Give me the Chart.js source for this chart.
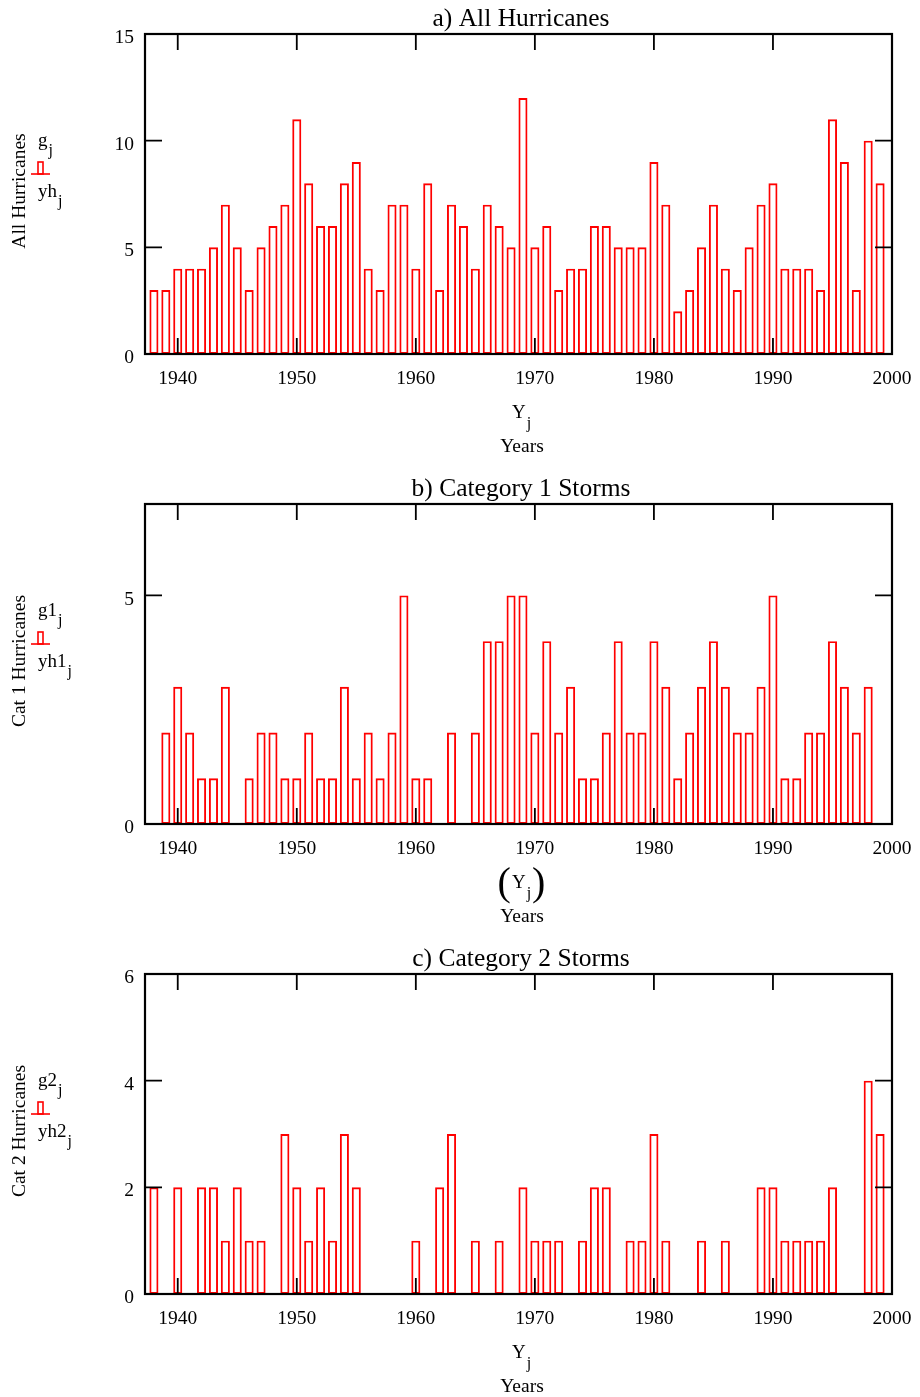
<!DOCTYPE html>
<html>
<head>
<meta charset="utf-8">
<script src="https://cdn.jsdelivr.net/npm/chart.js@4.4.0/dist/chart.umd.min.js"></script>
<style>
body { margin: 0; background: #fff; }
canvas { display: block; }
</style>
</head>
<body>
<canvas id="Grafico1" width="920" height="470"></canvas>
<canvas id="Grafico2" width="920" height="470"></canvas>
<canvas id="Grafico3" width="920" height="457"></canvas>
<script>
// Dados //
var anos = [1938, 1939, 1940, 1941, 1942, 1943, 1944, 1945, 1946, 1947,
    1948, 1949, 1950, 1951, 1952, 1953, 1954, 1955, 1956, 1957,
    1958, 1959, 1960, 1961, 1962, 1963, 1964, 1965, 1966, 1967,
    1968, 1969, 1970, 1971, 1972, 1973, 1974, 1975, 1976, 1977,
    1978, 1979, 1980, 1981, 1982, 1983, 1984, 1985, 1986, 1987,
    1988, 1989, 1990, 1991, 1992, 1993, 1994, 1995, 1996, 1997,
    1998, 1999];
var todos = [3, 3, 4, 4, 4, 5, 7, 5, 3, 5,
    6, 7, 11, 8, 6, 6, 8, 9, 4, 3,
    7, 7, 4, 8, 3, 7, 6, 4, 7, 6,
    5, 12, 5, 6, 3, 4, 4, 6, 6, 5,
    5, 5, 9, 7, 2, 3, 5, 7, 4, 3,
    5, 7, 8, 4, 4, 4, 3, 11, 9, 3,
    10, 8];
var cat1 = [0, 2, 3, 2, 1, 1, 3, 0, 1, 2,
    2, 1, 1, 2, 1, 1, 3, 1, 2, 1,
    2, 5, 1, 1, 0, 2, 0, 2, 4, 4,
    5, 5, 2, 4, 2, 3, 1, 1, 2, 4,
    2, 2, 4, 3, 1, 2, 3, 4, 3, 2,
    2, 3, 5, 1, 1, 2, 2, 4, 3, 2,
    3, 0];
var cat2 = [2, 0, 2, 0, 2, 2, 1, 2, 1, 1,
    0, 3, 2, 1, 2, 1, 3, 2, 0, 0,
    0, 0, 1, 0, 2, 3, 0, 1, 0, 1,
    0, 2, 1, 1, 1, 0, 1, 2, 2, 0,
    1, 1, 3, 1, 0, 0, 1, 0, 1, 0,
    0, 2, 2, 1, 1, 1, 1, 2, 0, 0,
    4, 3];
var ticksX = [1940, 1950, 1960, 1970, 1980, 1990, 2000];
var ticksA = [0, 5, 10, 15];
var ticksB = [0, 5];
var ticksC = [0, 2, 4, 6];
// ------------------------------ //

var fonte = 'Liberation Serif, Times New Roman, serif';

// texto com indice (subscrito) //
function escreveSub(ctx, base, sub, x, y, dy, centro) {
    ctx.font = '19px ' + fonte;
    var w1 = ctx.measureText(base).width;
    ctx.font = '16px ' + fonte;
    var w2 = ctx.measureText(sub).width;
    if (centro) x = x - (w1 + w2) / 2;
    ctx.textAlign = 'left';
    ctx.textBaseline = 'alphabetic';
    ctx.font = '19px ' + fonte;
    ctx.fillText(base, x, y);
    ctx.font = '16px ' + fonte;
    ctx.fillText(sub, x + w1 + 1, y + dy);
    return { x: x, w: w1 + w2 };
}

// plugin para moldura, marcas e textos //
var extras = {
    id: 'extras',
    afterDatasetsDraw: function (chart) {
        var ctx = chart.ctx, a = chart.chartArea;
        var sx = chart.scales.x, sy = chart.scales.y;
        var o = chart.options.plugins.extras;
        ctx.save();
        ctx.fillStyle = '#000';
        ctx.strokeStyle = '#000';
        // marcas para dentro
        ctx.lineWidth = 1.8;
        ctx.beginPath();
        sx.ticks.forEach(function (t) {
            var p = sx.getPixelForValue(t.value);
            ctx.moveTo(p, a.bottom); ctx.lineTo(p, a.bottom - 16);
            ctx.moveTo(p, a.top); ctx.lineTo(p, a.top + 16);
        });
        sy.ticks.forEach(function (t) {
            var p = sy.getPixelForValue(t.value);
            ctx.moveTo(a.left, p); ctx.lineTo(a.left + 17, p);
            ctx.moveTo(a.right, p); ctx.lineTo(a.right - 17, p);
        });
        ctx.stroke();
        // moldura
        ctx.lineWidth = 2.2;
        ctx.strokeRect(a.left, a.top, a.right - a.left, a.bottom - a.top);

        // titulo
        ctx.font = '25.5px ' + fonte;
        ctx.textAlign = 'center';
        ctx.textBaseline = 'alphabetic';
        ctx.fillText(o.titulo, 521, 26);

        // rotulo do eixo y
        ctx.save();
        ctx.translate(20, 191);
        ctx.rotate(-Math.PI / 2);
        ctx.font = '19.5px ' + fonte;
        ctx.textAlign = 'center';
        ctx.textBaseline = 'middle';
        ctx.fillText(o.rotuloY, 0, 0);
        ctx.restore();

        // legenda
        escreveSub(ctx, o.leg1, 'j', 38, 146, 9, false);
        escreveSub(ctx, o.leg2, 'j', 38, 197, 9, false);
        ctx.strokeStyle = '#ff0000';
        ctx.lineWidth = 1.6;
        ctx.strokeRect(38, 162, 5, 12);
        ctx.beginPath();
        ctx.moveTo(31, 174); ctx.lineTo(50, 174);
        ctx.stroke();

        // rotulo do eixo x
        ctx.fillStyle = '#000';
        var r = escreveSub(ctx, 'Y', 'j', 521, 418, 10, true);
        if (o.parenteses) {
            ctx.font = '40px ' + fonte;
            ctx.textBaseline = 'middle';
            ctx.textAlign = 'right';
            ctx.fillText('(', r.x - 1, 414);
            ctx.textAlign = 'left';
            ctx.fillText(')', r.x + r.w + 2, 414);
        }
        ctx.font = '19.5px ' + fonte;
        ctx.textAlign = 'center';
        ctx.textBaseline = 'alphabetic';
        ctx.fillText('Years', 522, 452);
        ctx.restore();
    }
};
// ------------------------------ //

function criaGrafico(id, valores, maximo, ticksY, opcoes) {
    var pontos = [];
    for (var i = 0; i < anos.length; i++) {
        pontos.push({ x: anos[i], y: valores[i] });
    }
    var altura = document.getElementById(id).height;
    return new Chart(document.getElementById(id), {
        type: 'bar',
        data: {
            datasets: [{
                data: pontos,
                borderColor: '#ff0000',
                backgroundColor: 'rgba(255, 255, 255, 0)',
                borderWidth: 1.9,
                borderSkipped: false,
                barPercentage: 0.76,
                categoryPercentage: 1
            }]
        },
        options: {
            responsive: false,
            animation: false,
            layout: { padding: { top: 34, right: 28, left: 0, bottom: 0 } },
            plugins: {
                legend: { display: false },
                tooltip: { enabled: false },
                extras: opcoes
            },
            scales: {
                x: {
                    type: 'linear',
                    min: 1937.25,
                    max: 2000,
                    offset: false,
                    grid: { display: false, drawTicks: false },
                    border: { display: false },
                    afterBuildTicks: function (s) {
                        s.ticks = ticksX.map(function (v) { return { value: v }; });
                    },
                    afterFit: function (s) {
                        s.height = altura - 354;
                        s.paddingLeft = 0;
                        s.paddingRight = 0;
                    },
                    ticks: {
                        color: '#000',
                        font: { family: fonte, size: 19.5 },
                        padding: 13,
                        maxRotation: 0,
                        autoSkip: false,
                        callback: function (v) { return String(v); }
                    }
                },
                y: {
                    min: 0,
                    max: maximo,
                    grid: { display: false, drawTicks: false },
                    border: { display: false },
                    afterBuildTicks: function (s) {
                        s.ticks = ticksY.map(function (v) { return { value: v }; });
                    },
                    afterFit: function (s) {
                        s.width = 145;
                        s.paddingTop = 0;
                        s.paddingBottom = 0;
                    },
                    ticks: {
                        color: '#000',
                        font: { family: fonte, size: 19.5 },
                        padding: 11,
                        labelOffset: 4
                    }
                }
            }
        },
        plugins: [extras]
    });
}

criaGrafico('Grafico1', todos, 15, ticksA, {
    titulo: 'a) All Hurricanes', rotuloY: 'All Hurricanes', leg1: 'g', leg2: 'yh', parenteses: false
});
criaGrafico('Grafico2', cat1, 7, ticksB, {
    titulo: 'b) Category 1 Storms', rotuloY: 'Cat 1 Hurricanes', leg1: 'g1', leg2: 'yh1', parenteses: true
});
criaGrafico('Grafico3', cat2, 6, ticksC, {
    titulo: 'c) Category 2 Storms', rotuloY: 'Cat 2 Hurricanes', leg1: 'g2', leg2: 'yh2', parenteses: false
});
</script>
</body>
</html>
